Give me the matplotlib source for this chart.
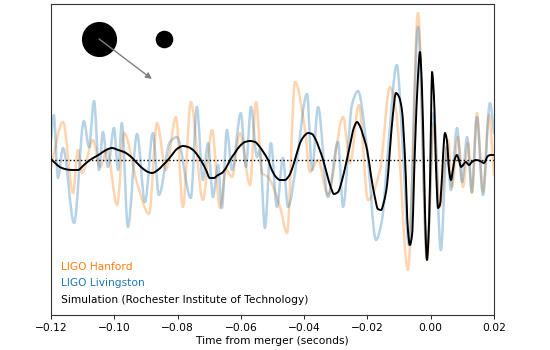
import numpy as np
import matplotlib
matplotlib.use("Agg")
import matplotlib.pyplot as plt
from matplotlib.path import Path
from matplotlib.patches import PathPatch

# ---------------- data (time in ms, strain in arbitrary units) ----------------
sim_t = [-120.0, -118.7, -117.2, -115.6, -113.4, -111.5, -109.6, -107.7, -106.1, -104.5,
         -102.6, -100.7, -98.8, -96.9, -95.0, -93.1, -91.2, -89.3, -88.1, -86.2,
         -84.6, -83.3, -81.8, -80.2, -78.3, -76.7, -75.1, -73.5, -72.3, -71.0,
         -69.8, -68.5, -67.2, -66.0, -64.7, -63.4, -61.9, -60.3, -58.7, -57.1,
         -55.5, -54.0, -52.7, -51.4, -50.2, -48.9, -47.6, -46.1, -44.8, -43.5,
         -42.3, -41.0, -39.7, -38.8, -37.5, -36.6, -35.3, -34.0, -32.8, -31.5,
         -30.6, -29.3, -28.0, -26.8, -25.5, -24.3, -23.3, -22.4, -21.4, -20.1,
         -18.9, -17.6, -16.7, -15.7, -14.8, -13.8, -12.9, -11.9, -11.0, -10.0,
         -9.1, -8.1, -7.2, -6.6, -5.9, -5.0, -4.0, -3.4, -2.8, -2.1,
         -1.5, -1.2, -0.5, 0.1, 0.4, 1.0, 1.7, 2.3, 2.9, 3.6,
         4.2, 4.5, 5.1, 5.8, 6.4, 7.0, 7.7, 8.3, 8.9, 9.6,
         10.2, 11.1, 12.1, 13.0, 14.3, 15.6, 16.8, 18.1, 19.0, 20.0]
sim_h = [0.01, -0.03, -0.07, -0.09, -0.10, -0.10, -0.05, 0.00, 0.03, 0.06,
         0.10, 0.12, 0.10, 0.08, 0.04, -0.02, -0.08, -0.12, -0.13, -0.10,
         -0.05, -0.01, 0.05, 0.11, 0.14, 0.13, 0.10, 0.04, -0.02, -0.10,
         -0.18, -0.18, -0.15, -0.13, -0.08, 0.00, 0.07, 0.14, 0.18, 0.19,
         0.18, 0.13, 0.07, 0.00, -0.10, -0.17, -0.20, -0.20, -0.16, -0.06,
         0.07, 0.19, 0.25, 0.27, 0.26, 0.22, 0.12, 0.00, -0.14, -0.28,
         -0.34, -0.32, -0.20, -0.04, 0.15, 0.32, 0.38, 0.34, 0.25, 0.10,
         -0.15, -0.38, -0.49, -0.50, -0.42, -0.25, 0.10, 0.47, 0.67, 0.63,
         0.50, 0.00, -0.70, -0.85, -0.75, 0.10, 0.85, 1.08, 0.75, -0.10,
         -0.85, -1.00, -0.60, 0.40, 0.88, 0.65, -0.10, -0.48, -0.45, -0.15,
         0.20, 0.27, 0.20, -0.10, -0.20, -0.10, 0.02, 0.05, 0.00, -0.07,
         -0.05, -0.02, -0.05, -0.02, 0.00, -0.01, -0.03, 0.04, 0.05, 0.05]

livingston_t = [-120.0, -119.1, -117.8, -116.2, -112.7, -109.6, -108.0, -106.4, -104.8, -103.6,
                -102.0, -100.1, -98.8, -97.6, -95.7, -92.8, -90.3, -87.8, -85.9, -82.4,
                -80.2, -75.8, -73.9, -72.0, -70.4, -68.8, -67.2, -66.0, -64.4, -62.8,
                -60.0, -58.4, -56.8, -54.9, -54.0, -52.4, -50.5, -48.6, -46.7, -45.1,
                -42.3, -39.1, -37.5, -35.6, -32.5, -29.3, -27.7, -24.9, -23.0, -20.1,
                -17.3, -15.4, -13.5, -10.7, -8.8, -6.9, -4.0, -1.2, 1.0, 3.2,
                5.1, 6.4, 8.3, 9.9, 11.5, 13.0, 14.6, 16.5, 18.7, 20.0]
livingston_h = [0.20, 0.45, -0.18, 0.12, -0.63, 0.39, 0.13, 0.59, -0.10, 0.28,
                -0.07, 0.32, -0.10, 0.37, -0.67, 0.26, -0.42, 0.27, -0.35, 0.18,
                0.23, -0.38, 0.53, -0.20, 0.17, -0.37, -0.05, -0.48, 0.30, -0.10,
                0.47, -0.07, 0.53, 0.03, 0.10, -0.68, 0.17, -0.47, 0.02, -0.47,
                0.00, 0.66, -0.10, 0.53, -0.37, 0.18, -0.47, 0.55, 0.69, 0.10,
                -0.80, -0.60, 0.10, 0.95, 0.10, -0.85, 1.33, -0.93, 0.47, -0.90,
                0.13, -0.30, 0.32, -0.22, 0.23, -0.32, 0.43, -0.35, 0.57, 0.27]

hanford_t = [-120.0, -116.2, -113.0, -111.5, -110.2, -106.7, -104.5, -102.3, -99.1, -96.9,
             -92.8, -89.0, -86.5, -83.7, -80.5, -78.3, -75.8, -72.0, -69.1, -66.6,
             -64.7, -62.8, -60.3, -57.1, -55.2, -53.3, -51.4, -47.6, -45.4, -42.9,
             -39.7, -38.2, -35.6, -32.5, -27.7, -25.5, -22.7, -19.8, -16.0, -12.9,
             -11.0, -7.2, -4.0, -1.2, 1.0, 2.9, 5.5, 6.7, 8.6, 10.2,
             11.8, 13.0, 14.6, 16.5, 18.4, 20.0]
hanford_h = [-0.07, 0.38, -0.33, 0.10, -0.13, 0.20, -0.07, 0.10, -0.45, 0.27,
             -0.23, -0.54, 0.37, -0.10, 0.43, -0.47, 0.58, -0.40, 0.30, -0.48,
             -0.10, -0.17, 0.27, -0.25, 0.58, -0.13, -0.17, -0.47, -0.73, 0.78,
             0.30, -0.12, 0.00, -0.35, 0.43, -0.03, 0.55, -0.40, -0.10, 0.73,
             0.50, -1.10, 1.47, -1.00, 0.37, -0.47, 0.20, -0.27, 0.23, -0.27,
             0.17, -0.33, 0.47, -0.32, 0.45, -0.15]

legend_labels = ["LIGO Hanford", "LIGO Livingston", "Simulation (Rochester Institute of Technology)"]
x_ticks = [-0.12, -0.10, -0.08, -0.06, -0.04, -0.02, 0.00, 0.02]

ORANGE = "#ff7f0e"
BLUE = "#1f77b4"


def smooth_curve(ax, x, y, **kw):
    """Draw a smooth (monotone cubic) Bezier curve through the given points."""
    x = np.asarray(x, float)
    y = np.asarray(y, float)
    h = np.diff(x)
    d = np.diff(y) / h
    m = np.zeros_like(y)
    m[0], m[-1] = d[0], d[-1]
    for i in range(1, len(y) - 1):
        if d[i - 1] * d[i] <= 0:
            m[i] = 0.0
        else:
            w1 = 2 * h[i] + h[i - 1]
            w2 = h[i] + 2 * h[i - 1]
            m[i] = (w1 + w2) / (w1 / d[i - 1] + w2 / d[i])
    verts = [(x[0], y[0])]
    codes = [Path.MOVETO]
    for i in range(len(x) - 1):
        verts += [(x[i] + h[i] / 3, y[i] + m[i] * h[i] / 3),
                  (x[i + 1] - h[i] / 3, y[i + 1] - m[i + 1] * h[i] / 3),
                  (x[i + 1], y[i + 1])]
        codes += [Path.CURVE4] * 3
    patch = PathPatch(Path(verts, codes), fill=False, transform=ax.transData,
                      capstyle="round", joinstyle="round", **kw)
    ax.add_patch(patch)
    return patch


fig = plt.figure(figsize=(5.5, 3.5), dpi=100)
ax = fig.add_axes([0.0927, 0.1, 0.8055, 0.8886])

ms = lambda a: np.asarray(a) / 1000.0

smooth_curve(ax, ms(hanford_t), hanford_h, edgecolor=ORANGE, alpha=0.33, lw=1.8, zorder=2)
smooth_curve(ax, ms(livingston_t), livingston_h, edgecolor=BLUE, alpha=0.33, lw=1.8, zorder=2.1)
ax.axhline(0, color="black", ls=":", lw=1.0, zorder=2.5)
smooth_curve(ax, ms(sim_t), sim_h, edgecolor="black", lw=1.4, zorder=3)

ax.set_xlim(-0.12, 0.02)
ax.set_ylim(-1.55, 1.56)
ax.set_xticks(x_ticks)
ax.set_xticklabels([f"{v:.2f}".replace("-", "\u2212") for v in x_ticks])
ax.set_yticks([])
ax.tick_params(axis="x", labelsize=7.7, length=3, width=0.6, pad=2.5)
ax.set_xlabel("Time from merger (seconds)", fontsize=7.7, labelpad=2.5)
for s in ax.spines.values():
    s.set_linewidth(0.8)
    s.set_color("#333333")

# binary black hole illustration
ax.scatter([-0.1048], [1.21], s=640, color="black", zorder=4, linewidths=0)
ax.scatter([-0.0843], [1.21], s=160, color="black", zorder=4, linewidths=0)
ax.annotate("", xy=(-0.0881, 0.81), xytext=(-0.1048, 1.21),
            arrowprops=dict(arrowstyle="-|>", color="#808080", lw=1.0,
                            mutation_scale=9, shrinkA=0, shrinkB=0), zorder=5)

# coloured legend text
for label, col, yf in zip(legend_labels, [ORANGE, BLUE, "black"], [0.154, 0.103, 0.048]):
    ax.text(0.0226, yf, label, color=col, fontsize=7.7, transform=ax.transAxes,
            ha="left", va="center")

fig.savefig("out.png", dpi=100)
